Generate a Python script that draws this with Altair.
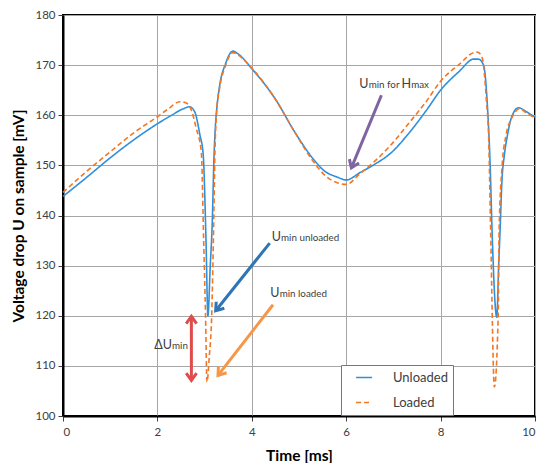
import math
import altair as alt
import pandas as pd

# ---- data ----
t_unloaded = [0, 0.5, 1, 1.5, 2, 2.3, 2.55, 2.68, 2.79, 2.9, 2.97, 3.03, 3.07, 3.12, 3.16, 3.2, 3.23,
              3.26, 3.32, 3.44, 3.6, 3.7, 4.0, 4.5, 4.9, 5.3, 5.55, 5.8, 6.0, 6.3, 6.6, 6.95, 7.3,
              7.7, 8.0, 8.4, 8.7, 8.8, 8.91, 9.0, 9.05, 9.09, 9.19, 9.23, 9.26, 9.3, 9.35, 9.42,
              9.5, 9.65, 9.8, 10]
v_unloaded = [143.8, 147.6, 151.5, 155.1, 158.3, 160.0, 161.3, 161.7, 160.7, 156.1, 152.2, 135, 120,
              130, 138, 152, 158, 161.5, 166, 170.2, 172.8, 172.3, 169.3, 163.2, 156.8, 151.3,
              148.8, 147.7, 147.1, 148.6, 150.2, 152.5, 156.1, 161.0, 165.0, 168.8, 171.2, 171.2,
              170.0, 160.5, 150, 137, 119.7, 130, 137, 147, 152, 156.2, 159.5, 161.5, 160.8, 159.6]

t_loaded = [0, 0.5, 1, 1.5, 2, 2.25, 2.47, 2.6, 2.72, 2.82, 2.93, 2.98, 3.02, 3.05, 3.1, 3.15, 3.19,
            3.22, 3.25, 3.32, 3.44, 3.6, 3.7, 4.0, 4.5, 4.9, 5.3, 5.6, 5.8, 6.0, 6.3, 6.6, 6.95,
            7.3, 7.7, 8.0, 8.4, 8.7, 8.78, 8.88, 8.97, 9.02, 9.06, 9.14, 9.22, 9.24, 9.3, 9.39,
            9.5, 9.68, 9.8, 10]
v_loaded = [144.6, 148.8, 152.7, 156.5, 159.7, 161.4, 162.7, 162.5, 161.0, 157.5, 152.7, 135, 120,
            106.8, 112, 120, 137, 153, 160, 165.5, 169.8, 172.5, 172.1, 169.4, 163.2, 156.8,
            150.8, 147.6, 146.6, 146.2, 148.4, 150.8, 154.1, 158.1, 162.8, 166.8, 170.2, 172.5,
            172.6, 171.5, 163, 155, 137, 105.8, 120, 137, 149.5, 156.2, 159.3, 161.3, 160.6, 159.4]

series_names = ["Unloaded", "Loaded"]

# annotation arrows: (x1, y1, x2, y2, colour, head at start?)
arrows = [
    (4.38, 134.5, 3.235, 121.0, "#2E75B6", False),
    (4.45, 122.2, 3.284, 108.1, "#F79646", False),
    (6.746, 164.0, 6.11, 149.5, "#8064A2", False),
    (2.72, 107.1, 2.72, 119.9, "#E04B4B", True),
]

# annotation text pieces: (x, y, text, size)
texts = [
    (4.421, 135.0, "U", 12.5), (4.62, 135.0, "min unloaded", 9.8),
    (4.39, 123.7, "U", 12.5), (4.59, 123.7, "min loaded", 9.8),
    (6.275, 165.45, "U", 12.5), (6.476, 165.45, "min for", 9.8),
    (7.17, 165.45, "H", 12.5), (7.377, 165.45, "max", 9.8),
]
delta_text = [(2.31, 113.3, "ΔU", 12.5, "right"), (2.31, 113.3, "min", 9.8, "left")]

FONT = "Lato"
W, H = 472, 401
XMIN, XMAX, YMIN, YMAX = 0, 10, 100, 180
px_x = W / (XMAX - XMIN)
px_y = H / (YMAX - YMIN)

df = pd.concat([
    pd.DataFrame({"t": t_unloaded, "v": v_unloaded, "series": "Unloaded", "order": range(len(t_unloaded))}),
    pd.DataFrame({"t": t_loaded, "v": v_loaded, "series": "Loaded", "order": range(len(t_loaded))}),
])

shafts, heads = [], []
for x1, y1, x2, y2, col, both in arrows:
    shafts.append({"x": x1, "y": y1, "x2": x2, "y2": y2, "c": col})
    dx, dy = (x2 - x1) * px_x, -(y2 - y1) * px_y
    ang = math.degrees(math.atan2(dx, -dy)) % 360
    heads.append({"x": x2, "y": y2, "a": ang, "c": col})
    if both:
        heads.append({"x": x1, "y": y1, "a": (ang + 180) % 360, "c": col})

xs = alt.Scale(domain=[XMIN, XMAX], nice=False)
ys = alt.Scale(domain=[YMIN, YMAX], nice=False)

LEG_EXPR = "datum.label + '    '"

lines = alt.Chart(df).mark_line(strokeWidth=1.6, interpolate="monotone").encode(
    x=alt.X("t:Q", scale=xs, title="Time [ms]",
            axis=alt.Axis(values=[0, 2, 4, 6, 8, 10], format="d")),
    y=alt.Y("v:Q", scale=ys, title="Voltage drop U on sample [mV]",
            axis=alt.Axis(values=list(range(100, 181, 10)), format="d")),
    color=alt.Color("series:N", scale=alt.Scale(domain=series_names, range=["#2F8FDA", "#F57621"]),
                    legend=alt.Legend(title=None, labelExpr=LEG_EXPR)),
    strokeDash=alt.StrokeDash("series:N", scale=alt.Scale(domain=series_names, range=[[1, 0], [5, 3]]),
                              legend=alt.Legend(title=None, labelExpr=LEG_EXPR)),
    order="order:O",
    detail="series:N",
)

shaft_layer = alt.Chart(pd.DataFrame(shafts)).mark_rule(strokeWidth=3, strokeCap="butt").encode(
    x=alt.X("x:Q", scale=xs), y=alt.Y("y:Q", scale=ys), x2="x2:Q", y2="y2:Q",
    color=alt.Color("c:N", scale=None),
)

head_layer = alt.Chart(pd.DataFrame(heads)).mark_point(
    shape="M -0.6 0.85 L 0 0 L 0.6 0.85", filled=False, strokeWidth=3, size=300, opacity=1,
    strokeCap="butt", strokeJoin="miter",
).encode(
    x=alt.X("x:Q", scale=xs), y=alt.Y("y:Q", scale=ys),
    angle=alt.Angle("a:Q", scale=None),
    stroke=alt.Stroke("c:N", scale=None),
)

tdf = pd.DataFrame(texts, columns=["x", "y", "txt", "s"])
text_layer = alt.Chart(tdf).mark_text(align="left", baseline="alphabetic", font=FONT, color="#404040").encode(
    x=alt.X("x:Q", scale=xs), y=alt.Y("y:Q", scale=ys), text="txt:N",
    size=alt.Size("s:Q", scale=None),
)

ddf = pd.DataFrame(delta_text, columns=["x", "y", "txt", "s", "al"])
delta_layers = [
    alt.Chart(ddf[ddf.al == al]).mark_text(align=al, baseline="alphabetic", font=FONT, color="#404040").encode(
        x=alt.X("x:Q", scale=xs), y=alt.Y("y:Q", scale=ys), text="txt:N",
        size=alt.Size("s:Q", scale=None),
    )
    for al in ["right", "left"]
]

chart = alt.layer(lines, shaft_layer, head_layer, text_layer, *delta_layers).properties(
    width=W, height=H,
    autosize=alt.AutoSizeParams(type="none"),
    padding={"left": 55, "top": 7, "right": 7, "bottom": 47},
).configure_view(
    stroke="black", strokeWidth=2,
).configure_axis(
    grid=True, gridColor="#A6A6A6", gridWidth=1,
    domainColor="black", domainWidth=2,
    tickColor="#404040", tickSize=5, tickWidth=1,
    labelFont=FONT, labelFontSize=11.5, labelColor="#404040", labelPadding=3,
    titleFont=FONT, titleFontSize=15.5, titleFontWeight="bold", titleColor="black",
).configure_axisY(
    titlePadding=8,
).configure_axisX(
    titlePadding=11, labelPadding=5,
).configure_legend(
    orient="none", legendX=278, legendY=350,
    fillColor="white", strokeColor="#777777", strokeWidth=1,
    padding=5, symbolType="M 0.4 0 L 2.86 0", symbolSize=169, symbolStrokeWidth=1.6,
    labelFont=FONT, labelFontSize=13, labelColor="#404040", labelOffset=32,
    rowPadding=10, cornerRadius=0,
)

chart.save("out.html", embed_options={"renderer": "svg", "actions": False})
